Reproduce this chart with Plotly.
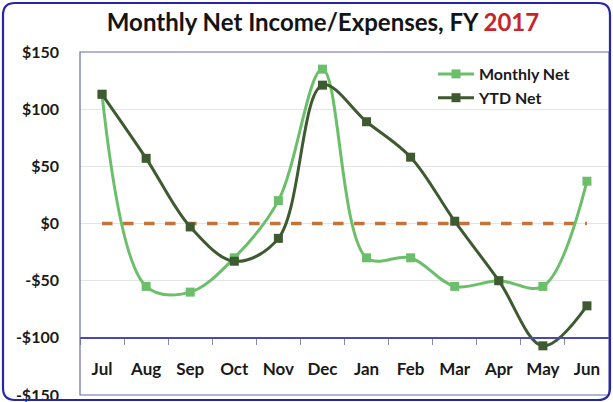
import plotly.graph_objects as go

months = ["Jul", "Aug", "Sep", "Oct", "Nov", "Dec", "Jan", "Feb", "Mar", "Apr", "May", "Jun"]
monthly_net = [113, -55, -60, -30, 20, 135, -30, -30, -55, -50, -55, 37]
ytd_net = [113, 57, -3, -33, -13, 121, 89, 58, 2, -50, -107, -72]
zero_line = [0] * 12
y_ticks = [150, 100, 50, 0, -50, -100, -150]
y_tick_text = ["$150", "$100", "$50", "$0", "-$50", "-$100", "-$150"]

FONT = "Lato"
light_green = "#6cbf6a"
dark_green = "#3e5a30"

fig = go.Figure()
fig.add_trace(go.Scatter(
    x=months, y=zero_line, mode="lines", showlegend=False,
    line=dict(color="#c2733a", width=3.5, dash="dash"), hoverinfo="skip"))
fig.add_trace(go.Scatter(
    x=months, y=monthly_net, name="Monthly Net", mode="lines+markers",
    line=dict(color=light_green, width=3, shape="spline", smoothing=1),
    marker=dict(symbol="square", size=9, color=light_green)))
fig.add_trace(go.Scatter(
    x=months, y=ytd_net, name="YTD Net", mode="lines+markers",
    line=dict(color=dark_green, width=3, shape="spline", smoothing=1),
    marker=dict(symbol="square", size=9, color=dark_green)))

L, R, T, B = 80, 4, 52, 7
W, H = 613, 402
pw, ph = W - L - R, H - T - B

def px(x):
    return (x - L) / pw

def py(y):
    return (H - B - y) / ph

# outer rounded border
x0, x1, y0, y1, r = px(3), px(610), py(3), py(400), 12
rx, ry = r / pw, r / ph
path = (f"M {x0+rx},{y0} L {x1-rx},{y0} Q {x1},{y0} {x1},{y0-ry} "
        f"L {x1},{y1+ry} Q {x1},{y1} {x1-rx},{y1} L {x0+rx},{y1} "
        f"Q {x0},{y1} {x0},{y1+ry} L {x0},{y0-ry} Q {x0},{y0} {x0+rx},{y0} Z")

fig.update_layout(
    width=W, height=H,
    margin=dict(l=L, r=R, t=T, b=B, autoexpand=False),
    paper_bgcolor="white", plot_bgcolor="white",
    title=dict(
        text="Monthly Net Income/Expenses, FY <span style='color:#c8242b'>2017</span>",
        x=323 / W, xanchor="center", y=1 - 23 / H, yanchor="middle",
        font=dict(family=FONT, size=24, color="#141414", weight="bold")),
    legend=dict(x=px(433), y=py(57), xanchor="left", yanchor="top",
                bgcolor="rgba(0,0,0,0)", itemwidth=36, tracegroupgap=0,
                font=dict(family=FONT, size=16, color="#1a1a1a", weight="bold")),
    xaxis=dict(
        type="category", range=[-0.5, 11.5], anchor="free", position=1/6,
        showline=True, linecolor="#4a4aa8", linewidth=1.5, automargin=False,
        ticks="outside", tickson="boundaries", ticklen=6, tickcolor="#8a8aa8",
        ticklabelstandoff=16, tickangle=0, showgrid=False, zeroline=False,
        tickfont=dict(family=FONT, size=17, color="#1a1a1a", weight="bold")),
    yaxis=dict(
        range=[-150, 150], tickvals=y_ticks, ticktext=y_tick_text, automargin=False,
        showgrid=True, gridcolor="#e4e4e4", gridwidth=1, zeroline=False,
        showline=False, ticks="", ticklabelstandoff=20, ticklabeloverflow="allow",
        tickfont=dict(family=FONT, size=16, color="#1a1a1a", weight="bold")),
    shapes=[
        dict(type="rect", xref="paper", yref="paper", x0=0, x1=1, y0=0, y1=1,
             line=dict(color="#6a6ab0", width=1.2), layer="above"),
        dict(type="path", xref="paper", yref="paper", path=path,
             line=dict(color="#2626a8", width=2.2)),
    ],
)

fig.write_html("out.html", config={"displayModeBar": False},
               post_script="document.body.style.margin='0';document.body.style.overflow='hidden';")
